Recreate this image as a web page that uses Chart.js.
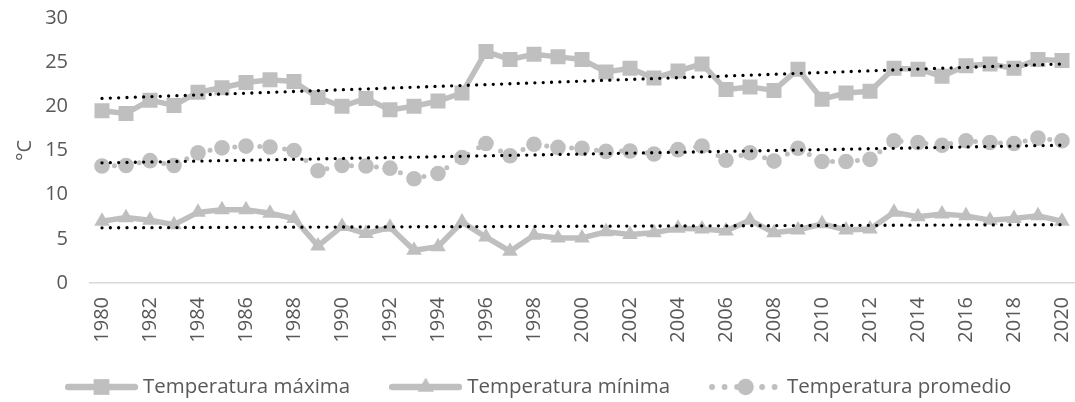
<!DOCTYPE html>
<html>
<head>
<meta charset="utf-8">
<script src="https://cdn.jsdelivr.net/npm/chart.js@4.4.0/dist/chart.umd.min.js"></script>
<style>
  html, body { margin: 0; padding: 0; background: #ffffff; }
  #wrap { width: 1075px; height: 402px; }
</style>
</head>
<body>
<div id="wrap"><canvas id="chart" width="1075" height="402"></canvas></div>
<script>
// Annual temperatures, 1980–2020 (°C)
const years = ['1980','1981','1982','1983','1984','1985','1986','1987','1988','1989',
               '1990','1991','1992','1993','1994','1995','1996','1997','1998','1999',
               '2000','2001','2002','2003','2004','2005','2006','2007','2008','2009',
               '2010','2011','2012','2013','2014','2015','2016','2017','2018','2019','2020'];

const tempMax = [19.5, 19.2, 20.7, 20.1, 21.6, 22.1, 22.7, 23.0, 22.8, 21.0,
                 20.0, 20.9, 19.6, 20.0, 20.6, 21.5, 26.2, 25.3, 25.9, 25.6,
                 25.3, 23.9, 24.3, 23.2, 24.0, 24.8, 21.9, 22.2, 21.8, 24.2,
                 20.8, 21.5, 21.7, 24.3, 24.2, 23.4, 24.6, 24.8, 24.3, 25.3, 25.2];

const tempMin = [7.0, 7.4, 7.1, 6.6, 8.0, 8.3, 8.3, 7.9, 7.3, 4.2,
                 6.4, 5.6, 6.3, 3.7, 4.1, 6.9, 5.2, 3.6, 5.4, 5.1,
                 5.1, 5.8, 5.5, 5.7, 6.2, 6.1, 5.9, 7.1, 5.7, 6.0,
                 6.7, 6.0, 6.1, 8.0, 7.5, 7.8, 7.6, 7.1, 7.3, 7.6, 7.0];

const tempAvg = [13.25, 13.3, 13.85, 13.3, 14.75, 15.3, 15.5, 15.4, 15.0, 12.7,
                 13.3, 13.25, 13.0, 11.8, 12.4, 14.2, 15.8, 14.4, 15.7, 15.35,
                 15.25, 14.9, 14.95, 14.6, 15.1, 15.5, 13.9, 14.75, 13.8, 15.25,
                 13.75, 13.75, 14.0, 16.1, 15.9, 15.6, 16.1, 15.9, 15.8, 16.4, 16.1];

// Linear trend lines: value at the first and at the last year
const trendMax = [20.9, 24.8];
const trendMin = [6.25, 6.6];
const trendAvg = [13.6, 15.6];

const seriesNames = ['Temperatura máxima', 'Temperatura mínima', 'Temperatura promedio'];
const yAxisTitle = '°C';

const GREY = '#bfbfbf';
const TEXT = '#595959';
const FONT = "'Open Sans', sans-serif";

// A trend line only needs its two end points; the gap is spanned.
function trendData(ends) {
  return years.map((y, i) => i === 0 ? ends[0] : (i === years.length - 1 ? ends[1] : null));
}

function trendSet(ends) {
  return {
    data: trendData(ends),
    isTrend: true,
    borderColor: '#000000',
    borderWidth: 3.3,
    borderDash: [0, 8.33],
    borderCapStyle: 'round',
    pointRadius: 0,
    pointHoverRadius: 0,
    spanGaps: true,
    fill: false,
    order: 0
  };
}

const datasets = [
  {
    label: seriesNames[0], data: tempMax,
    borderColor: GREY, backgroundColor: GREY, borderWidth: 5.5,
    pointStyle: 'rect', pointRadius: 10.6, pointBorderWidth: 0,
    pointBackgroundColor: GREY, tension: 0, order: 1
  },
  {
    label: seriesNames[1], data: tempMin,
    borderColor: GREY, backgroundColor: GREY, borderWidth: 5.5,
    pointStyle: 'triangle', pointRadius: 9, pointBorderWidth: 0,
    pointBackgroundColor: GREY, tension: 0, order: 1
  },
  {
    label: seriesNames[2], data: tempAvg,
    borderColor: GREY, backgroundColor: GREY, borderWidth: 5,
    borderDash: [0, 12.5], borderCapStyle: 'round',
    pointStyle: 'circle', pointRadius: 7.8, pointBorderWidth: 0,
    pointBackgroundColor: GREY, tension: 0, order: 1
  },
  trendSet(trendMax),
  trendSet(trendMin),
  trendSet(trendAvg)
];

// Legend swatch: a short piece of the series line with its marker in the middle
const SWATCH_W = 73;
function swatch(ds) {
  const c = document.createElement('canvas');
  c.width = SWATCH_W; c.height = 24;
  const ctx = c.getContext('2d');
  ctx.strokeStyle = ds.borderColor;
  ctx.lineWidth = ds.borderWidth + 0.8;
  ctx.lineCap = 'round';
  ctx.setLineDash(ds.borderDash || []);
  ctx.beginPath();
  ctx.moveTo(3, 12);
  ctx.lineTo(SWATCH_W - 3, 12);
  ctx.stroke();
  ctx.setLineDash([]);
  ctx.fillStyle = ds.pointBackgroundColor;
  Chart.helpers.drawPoint(ctx, { pointStyle: ds.pointStyle, radius: ds.pointRadius * 1.05, borderWidth: 0, rotation: 0 }, SWATCH_W / 2, 12);
  return c;
}

// Legend drawn below the axis: swatch, text, then the next entry
const seriesLegend = {
  id: 'seriesLegend',
  afterDraw(chart) {
    const ctx = chart.ctx;
    ctx.save();
    ctx.font = '20.5px ' + FONT;
    ctx.textAlign = 'left';
    ctx.textBaseline = 'middle';
    ctx.fillStyle = TEXT;
    const items = chart.data.datasets.filter(d => !d.isTrend);
    const GAP = 5, SPACE = 39;
    const widths = items.map(d => SWATCH_W + GAP + ctx.measureText(d.label).width);
    const total = widths.reduce((a, b) => a + b, 0) + SPACE * (items.length - 1);
    let x = Math.round((chart.width - total) / 2) + 1;
    const yc = 387;
    items.forEach((d, i) => {
      const sw = swatch(d);
      ctx.drawImage(sw, x, yc - sw.height / 2);
      ctx.fillText(d.label, x + SWATCH_W + GAP, yc);
      x += widths[i] + SPACE;
    });
    ctx.restore();
  }
};

new Chart(document.getElementById('chart'), {
  type: 'line',
  data: { labels: years, datasets: datasets },
  plugins: [seriesLegend],
  options: {
    responsive: false,
    animation: false,
    devicePixelRatio: 1,
    layout: { autoPadding: false, padding: { top: 18, left: 13, right: 1, bottom: 49 } },
    scales: {
      x: {
        type: 'category',
        offset: true,
        grid: { display: false, drawTicks: false },
        border: { display: true, color: '#d9d9d9', width: 1.5 },
        ticks: {
          autoSkip: false,
          minRotation: 90,
          maxRotation: 90,
          padding: 14,
          color: TEXT,
          font: { family: FONT, size: 20 },
          callback: function (value, index) {
            return index % 2 === 0 ? this.getLabelForValue(value) : '';
          }
        },
        afterFit: function (scale) {
          scale.height = 70;
          scale.paddingLeft = 0;
          scale.paddingRight = 0;
        }
      },
      y: {
        min: 0,
        max: 30,
        grid: { display: false, drawTicks: false },
        border: { display: false },
        ticks: {
          stepSize: 5,
          padding: 22,
          color: TEXT,
          font: { family: FONT, size: 20 }
        },
        title: {
          display: true,
          text: yAxisTitle,
          color: TEXT,
          font: { family: FONT, size: 20 },
          padding: { top: 0, bottom: 4 }
        },
        afterFit: function (scale) {
          scale.width = 77;
          scale.paddingTop = 0;
          scale.paddingBottom = 0;
        }
      }
    },
    plugins: {
      tooltip: { enabled: false },
      legend: { display: false }
    }
  }
});
</script>
</body>
</html>
